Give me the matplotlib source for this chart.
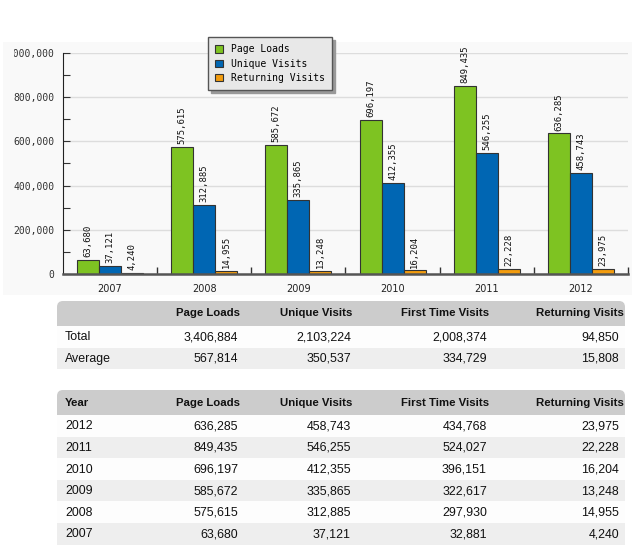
import numpy as np
import matplotlib
matplotlib.use('Agg')
import matplotlib.pyplot as plt
from matplotlib.patches import Patch, Rectangle, FancyBboxPatch
from matplotlib.ticker import MultipleLocator, FuncFormatter, FixedLocator

# ---------------- data ----------------
years = ['2007', '2008', '2009', '2010', '2011', '2012']
page_loads = [63680, 575615, 585672, 696197, 849435, 636285]
unique_visits = [37121, 312885, 335865, 412355, 546255, 458743]
first_time_visits = [32881, 297930, 322617, 396151, 524027, 434768]
returning_visits = [4240, 14955, 13248, 16204, 22228, 23975]
series_names = ['Page Loads', 'Unique Visits', 'Returning Visits']
series_colors = ['#7ec322', '#0066b3', '#f39c0e']
table_headers = ['Page Loads', 'Unique Visits', 'First Time Visits', 'Returning Visits']

W, H = 632, 554
fig = plt.figure(figsize=(W / 100, H / 100), dpi=100)
fig.patch.set_facecolor('white')

# background / overlay axes in pixel coordinates
bg = fig.add_axes([0, 0, 1, 1])
bg.set_xlim(0, W)
bg.set_ylim(H, 0)
bg.axis('off')
bg.set_zorder(0)
chart_bg = Rectangle((3, 42), W - 3, 253, facecolor='#f9f9f9', edgecolor='none')
bg.add_patch(chart_bg)
label_clip = Rectangle((14, 42), W - 14, 253, facecolor='none', edgecolor='none')
bg.add_patch(label_clip)

# ---------------- chart ----------------
ax = fig.add_axes([63 / W, 1 - 274 / H, (628 - 63) / W, (274 - 53) / H])
ax.set_zorder(1)
ax.patch.set_visible(False)

x = np.arange(len(years))
bw = 0.234
mono = dict(family='DejaVu Sans Mono')
all_series = [page_loads, unique_visits, returning_visits]
for i, (vals, col) in enumerate(zip(all_series, series_colors)):
    xs = x + (i - 1) * bw
    ax.bar(xs, vals, width=bw, color=col, edgecolor='#333333', linewidth=0.8, zorder=2)
    for xi, v in zip(xs, vals):
        t = ax.annotate(f"{v:,}", xy=(xi, v), xytext=(0, 2), textcoords='offset points',
                        rotation=90, ha='center', va='bottom', fontsize=6.4,
                        color='#111111', annotation_clip=False, **mono)
        t.set_clip_path(chart_bg)

ax.set_xlim(-0.5, len(years) - 0.5)
ax.set_ylim(0, 1000000)
ax.yaxis.set_major_locator(MultipleLocator(200000))
ax.yaxis.set_minor_locator(MultipleLocator(100000))
ax.yaxis.set_major_formatter(FuncFormatter(lambda v, p: f"{int(v):,}"))
ax.tick_params(axis='y', which='both', direction='in', length=5, width=0.8,
               color='#333333', labelsize=7, labelcolor='#333333', pad=6)
for tk in ax.yaxis.get_major_ticks():
    tk.label1.set_family('DejaVu Sans Mono')
    tk.label1.set_clip_path(label_clip)

ax.set_xticks(x)
ax.set_xticklabels(years)
ax.xaxis.set_minor_locator(FixedLocator(np.arange(0.5, len(years) + 0.5, 1)))
ax.tick_params(axis='x', which='major', length=0, labelsize=7, labelcolor='#222222', pad=7)
ax.tick_params(axis='x', which='minor', direction='in', length=5, width=1, color='#333333')

ax.grid(axis='y', which='major', color='#dddddd', linewidth=1, zorder=0)
ax.set_axisbelow(True)
for s in ['top', 'right']:
    ax.spines[s].set_visible(False)
ax.spines['left'].set_color('#222222')
ax.spines['left'].set_linewidth(0.8)
ax.spines['bottom'].set_color('#555555')
ax.spines['bottom'].set_linewidth(1.8)

handles = [Patch(facecolor=c, edgecolor='#333333', linewidth=0.8, label=n)
           for c, n in zip(series_colors, series_names)]
leg = ax.legend(handles=handles, loc='upper left', bbox_to_anchor=(208 / W, 1 - 37 / H),
                bbox_transform=fig.transFigure, borderaxespad=0,
                prop=dict(family='DejaVu Sans Mono', size=7), frameon=True, fancybox=False,
                edgecolor='#555555', facecolor='#e8e8e8', framealpha=1,
                shadow={'color': '#999999', 'alpha': 1},
                handlelength=0.8, handleheight=0.8, handletextpad=0.8,
                labelspacing=0.45, borderpad=0.75)
leg.get_frame().set_linewidth(1)
leg.set_zorder(5)

# ---------------- tables ----------------
tx0, tx1 = 57, 625
label_x = 65
header_right = [240, 352, 489, 624]
value_right = [238, 351, 487, 619]
tfont = 'Liberation Sans'


def draw_table(top, header_h, row_h, first_header, rows):
    bg.add_patch(FancyBboxPatch((tx0, top), tx1 - tx0, header_h + 8,
                                boxstyle='round,pad=0,rounding_size=6',
                                facecolor='#cccccc', edgecolor='none'))
    yc = top + header_h / 2
    if first_header:
        bg.text(label_x, yc, first_header, ha='left', va='center', fontsize=8.2,
                fontweight='bold', family=tfont, color='#111111')
    for hx, h in zip(header_right, table_headers):
        bg.text(hx, yc, h, ha='right', va='center', fontsize=8.2, fontweight='bold',
                family=tfont, color='#111111')
    y = top + header_h
    for r, (lab, vals) in enumerate(rows):
        bg.add_patch(Rectangle((tx0, y), tx1 - tx0, row_h,
                               facecolor='#fdfdfd' if r % 2 == 0 else '#eeeeee',
                               edgecolor='none'))
        yc = y + row_h / 2 + 0.5
        bg.text(label_x, yc, lab, ha='left', va='center', fontsize=8.9,
                family=tfont, color='#111111')
        for vx, v in zip(value_right, vals):
            bg.text(vx, yc, f"{v:,}", ha='right', va='center', fontsize=8.9,
                    family=tfont, color='#111111')
        y += row_h


cols = [page_loads, unique_visits, first_time_visits, returning_visits]
totals = [sum(c) for c in cols]
averages = [int(round(sum(c) / len(c))) for c in cols]
draw_table(301, 25, 21.5, '', [('Total', totals), ('Average', averages)])

year_rows = []
for i in range(len(years) - 1, -1, -1):
    year_rows.append((years[i], [c[i] for c in cols]))
draw_table(390, 25, 21.6, 'Year', year_rows)

fig.savefig('out.png', dpi=100)
